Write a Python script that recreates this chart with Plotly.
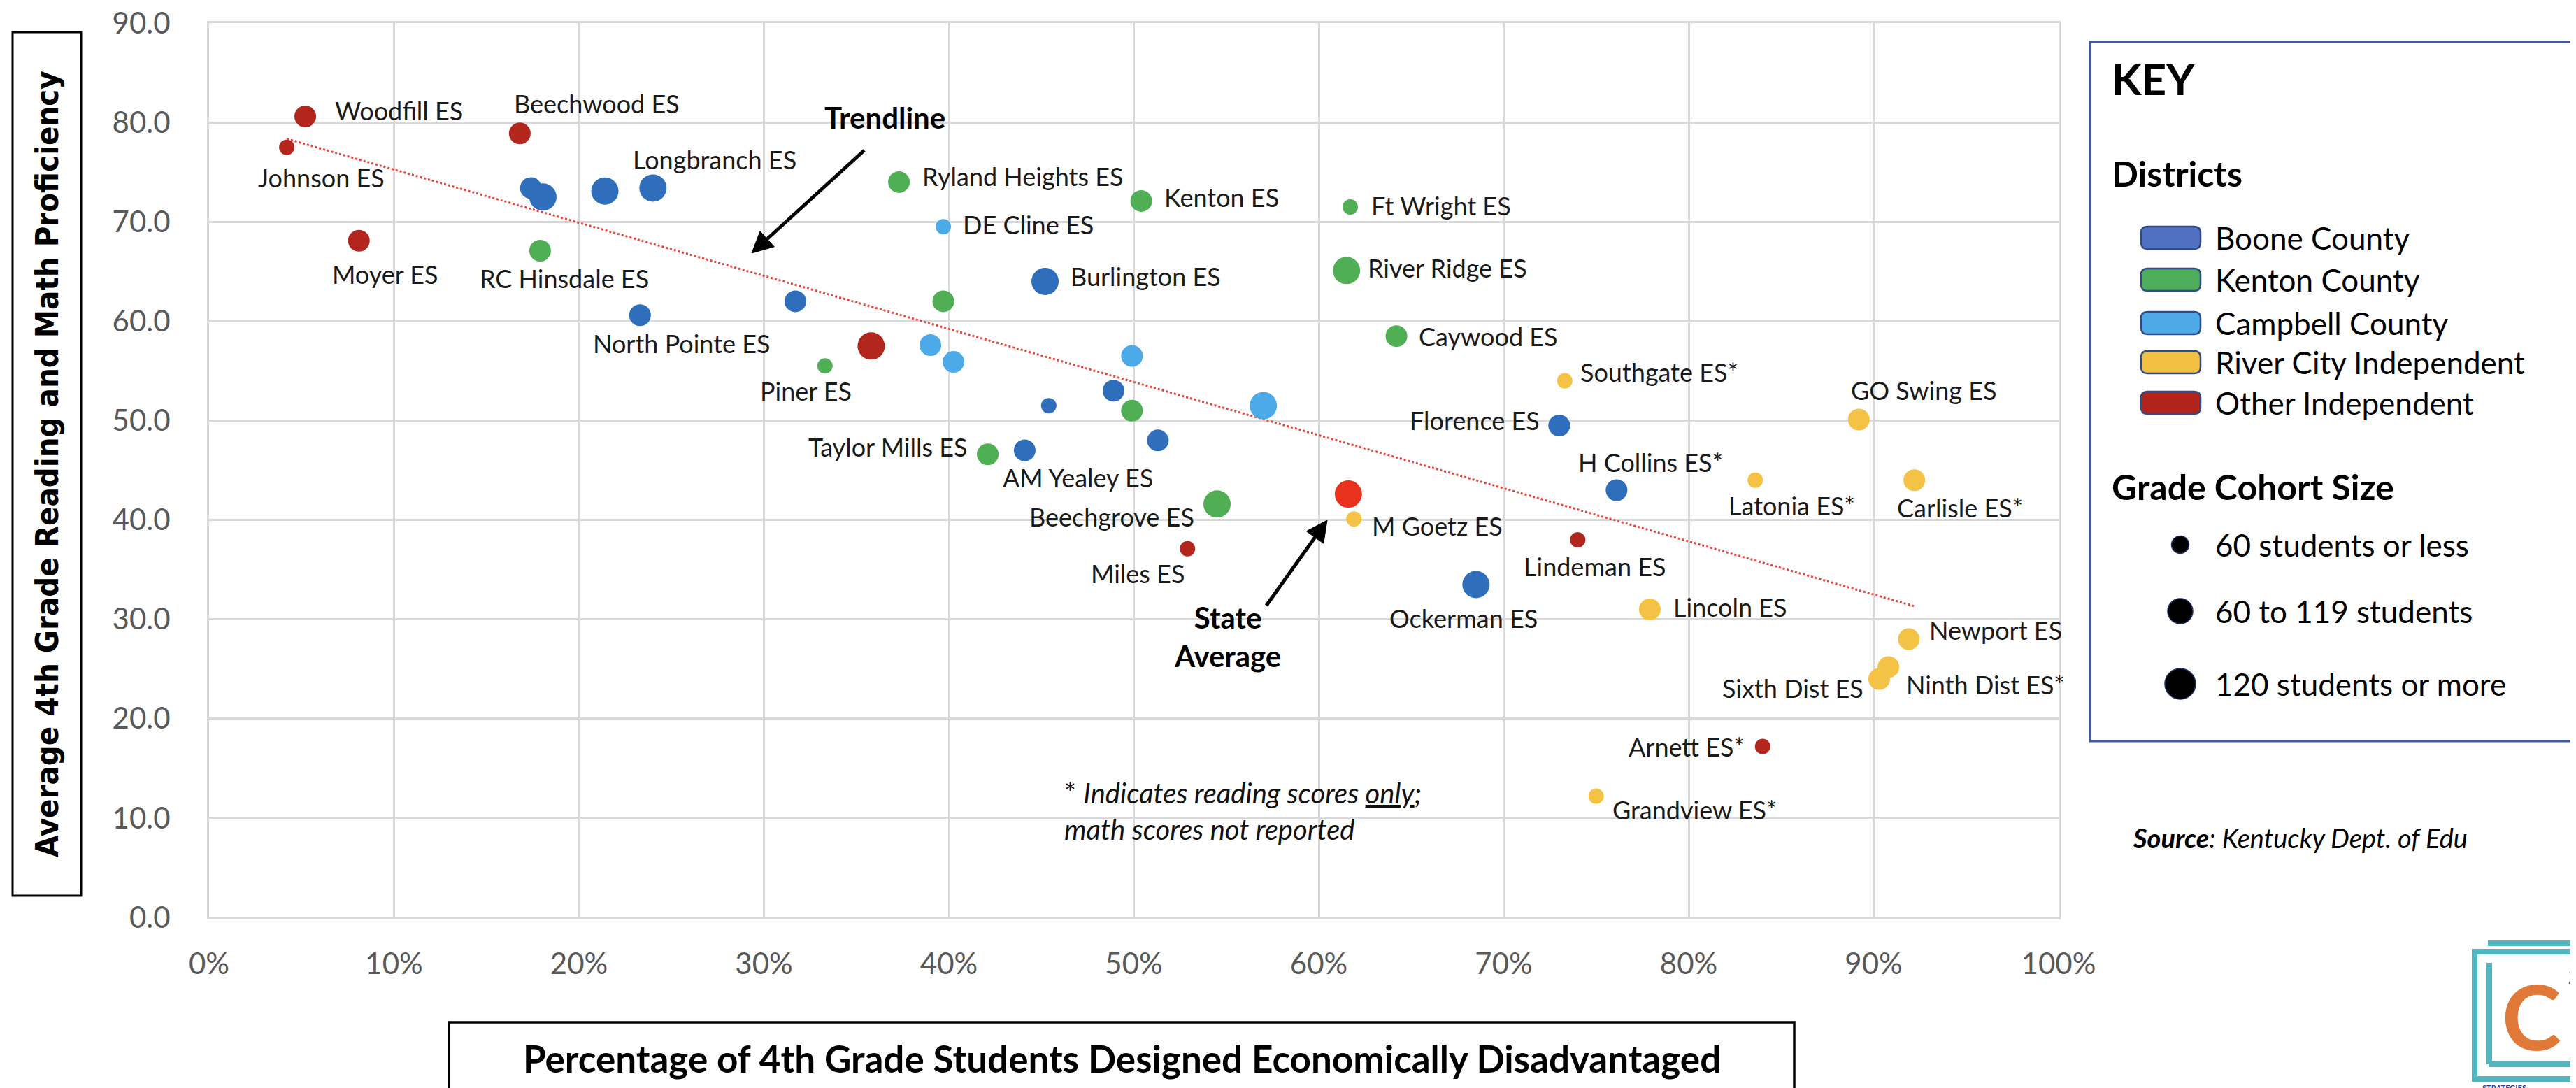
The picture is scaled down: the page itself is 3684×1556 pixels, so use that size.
import numpy as np
import plotly.graph_objects as go

# ---------------- DATA ----------------
districts = ["Boone County", "Kenton County", "Campbell County",
             "River City Independent", "Other Independent"]

boone_label = ["", "", "", "Longbranch ES", "North Pointe ES", "", "Burlington ES", "", "", "",
               "AM Yealey ES", "Florence ES", "H Collins ES*", "Ockerman ES"]
boone_x = [17.4, 18.05, 21.4, 24.0, 23.3, 31.7, 45.2, 45.4, 48.9, 51.3, 44.1, 73.0, 76.1, 68.5]
boone_y = [73.4, 72.5, 73.1, 73.4, 60.6, 62.0, 64.0, 51.5, 53.0, 48.0, 47.0, 49.5, 43.0, 33.5]
boone_cohort = ["M", "L", "L", "L", "M", "M", "L", "S", "M", "M", "M", "M", "M", "L"]

kenton_label = ["RC Hinsdale ES", "Piner ES", "Ryland Heights ES", "", "Taylor Mills ES", "",
                "Kenton ES", "Beechgrove ES", "Ft Wright ES", "River Ridge ES", "Caywood ES"]
kenton_x = [17.9, 33.3, 37.3, 39.7, 42.1, 49.9, 50.4, 54.5, 61.7, 61.5, 64.2]
kenton_y = [67.1, 55.5, 74.0, 62.0, 46.6, 51.0, 72.1, 41.6, 71.5, 65.1, 58.5]
kenton_cohort = ["M", "S", "M", "M", "M", "M", "M", "L", "S", "L", "M"]

campbell_label = ["DE Cline ES", "", "", "", ""]
campbell_x = [39.7, 39.0, 40.25, 49.9, 57.0]
campbell_y = [69.5, 57.6, 55.9, 56.5, 51.5]
campbell_cohort = ["S", "M", "M", "M", "L"]

river_label = ["Southgate ES*", "GO Swing ES", "Latonia ES*", "Carlisle ES*", "M Goetz ES",
               "Lincoln ES", "Newport ES", "Ninth Dist ES*", "Sixth Dist ES", "Grandview ES*"]
river_x = [73.3, 89.2, 83.6, 92.2, 61.9, 77.9, 91.9, 90.8, 90.3, 75.0]
river_y = [54.0, 50.1, 44.0, 44.0, 40.1, 31.0, 28.0, 25.2, 24.0, 12.2]
river_cohort = ["S", "M", "S", "M", "S", "M", "M", "M", "M", "S"]

other_label = ["Woodfill ES", "Johnson ES", "Beechwood ES", "Moyer ES", "", "Miles ES",
               "Lindeman ES", "Arnett ES*"]
other_x = [5.2, 4.2, 16.8, 8.1, 35.8, 52.9, 74.0, 84.0]
other_y = [80.6, 77.5, 78.9, 68.1, 57.5, 37.1, 38.0, 17.2]
other_cohort = ["M", "S", "M", "M", "L", "S", "S", "S"]

state_x = [61.6]
state_y = [42.6]
state_cohort = ["L"]

cohort_labels = ["60 students or less", "60 to 119 students", "120 students or more"]
x_ticks = list(range(0, 101, 10))
x_ticktext = [f"{v}%" for v in x_ticks]
y_ticks = list(range(0, 91, 10))
y_ticktext = [f"{v:.1f}" for v in y_ticks]

# ---------------- STYLE / LAYOUT ----------------
W, H = 3684, 1556
L, R, T, B = 291, 2936, 25, 1304   # plot area in page pixels


def px(x):
    return (x - L) / (R - L)


def py(y):
    return (B - y) / (B - T)


SIZE = {"S": 22, "M": 31, "L": 39}
DOT_COLORS = ["#2F6EBA", "#50AE55", "#4DAAE8", "#F4C245", "#B3261E"]
PATCH_COLORS = ["#5170BF", "#4EAD5B", "#4DAAE6", "#F2C142", "#B0241B"]
STATE_COLOR = "#E8321E"
LABEL_FONT = dict(family="Lato, sans-serif", size=36, color="#1A1A1A")
TICK_FONT = dict(family="Lato, sans-serif", size=42, color="#595959")

# label placement: (anchor, dx, dy) in pixels from the dot centre
LABEL_POS = {
    "Woodfill ES": ("l", 40, -9), "Beechwood ES": ("c", 110, -43), "Johnson ES": ("c", 49, 43),
    "Longbranch ES": ("c", 88, -41), "Ryland Heights ES": ("l", 31, -8), "DE Cline ES": ("l", 26, -3),
    "Moyer ES": ("c", 38, 48), "RC Hinsdale ES": ("c", 35, 40), "North Pointe ES": ("c", 60, 40),
    "Piner ES": ("c", -27, 36), "Taylor Mills ES": ("r", -27, -11), "AM Yealey ES": ("c", 76, 39),
    "Burlington ES": ("l", 34, -7), "Kenton ES": ("l", 31, -5), "Ft Wright ES": ("l", 28, -2),
    "River Ridge ES": ("l", 28, -4), "Caywood ES": ("l", 30, 0), "Southgate ES*": ("l", 20, -13),
    "GO Swing ES": ("c", 93, -42), "Florence ES": ("r", -26, -8), "H Collins ES*": ("c", 49, -40),
    "Latonia ES*": ("c", 52, 36), "Carlisle ES*": ("c", 65, 39), "Beechgrove ES": ("r", -31, 18),
    "M Goetz ES": ("l", 24, 10), "Lindeman ES": ("c", 25, 38), "Miles ES": ("c", -71, 35),
    "Ockerman ES": ("c", -18, 48), "Lincoln ES": ("l", 32, -3), "Newport ES": ("l", 27, -13),
    "Ninth Dist ES*": ("l", 23, 25), "Sixth Dist ES": ("r", -20, 13), "Arnett ES*": ("r", -24, 0),
    "Grandview ES*": ("l", 21, 19),
}
ANCHOR = {"l": "left", "c": "center", "r": "right"}

series = [
    (boone_label, boone_x, boone_y, boone_cohort),
    (kenton_label, kenton_x, kenton_y, kenton_cohort),
    (campbell_label, campbell_x, campbell_y, campbell_cohort),
    (river_label, river_x, river_y, river_cohort),
    (other_label, other_x, other_y, other_cohort),
]

fig = go.Figure()

# trendline: least squares over all schools, spanning the data range
all_x = np.array(sum([s[1] for s in series], []))
all_y = np.array(sum([s[2] for s in series], []))
slope, intercept = np.polyfit(all_x, all_y, 1)
tx = np.array([all_x.min(), all_x.max()])
fig.add_trace(go.Scatter(x=tx, y=slope * tx + intercept, mode="lines",
                         line=dict(color="#E8453C", width=3, dash="dot"),
                         hoverinfo="skip", showlegend=False))

annotations = []
for (labels, xs, ys, cohort), name, color in zip(series, districts, DOT_COLORS):
    fig.add_trace(go.Scatter(
        x=xs, y=ys, mode="markers", name=name, text=labels,
        marker=dict(color=color, size=[SIZE[c] for c in cohort], line=dict(width=0), opacity=1),
        showlegend=False))
    for lab, x, y in zip(labels, xs, ys):
        if not lab:
            continue
        a, dx, dy = LABEL_POS[lab]
        annotations.append(dict(x=x, y=y, xref="x", yref="y", text=lab, showarrow=False,
                                xanchor=ANCHOR[a], yanchor="middle", xshift=dx, yshift=-dy,
                                font=LABEL_FONT))

fig.add_trace(go.Scatter(x=state_x, y=state_y, mode="markers", name="State Average",
                         marker=dict(color=STATE_COLOR, size=[SIZE[c] for c in state_cohort],
                                     line=dict(width=0), opacity=1),
                         showlegend=False))

BOLD = dict(family="Lato, sans-serif", size=42, color="#000000")
shapes = []


def pa(text, x, y, xanchor="left", yanchor="middle", font=None, angle=0, align="left"):
    annotations.append(dict(x=px(x), y=py(y), xref="paper", yref="paper", text=text,
                            showarrow=False, xanchor=xanchor, yanchor=yanchor,
                            font=font or LABEL_FONT, textangle=angle, align=align))


def arrow(hx, hy, tx_, ty_, width=5, head_len=30, head_w=15):
    v = np.array([hx - tx_, hy - ty_], dtype=float)
    u = v / np.linalg.norm(v)
    n = np.array([-u[1], u[0]])
    base = np.array([hx, hy]) - u * head_len
    shapes.append(dict(type="line", xref="paper", yref="paper", x0=px(tx_), y0=py(ty_),
                       x1=px(base[0]), y1=py(base[1]), line=dict(color="#000000", width=width)))
    p1 = base + n * head_w
    p2 = base - n * head_w
    path = (f"M {px(hx):.6f},{py(hy):.6f} L {px(p1[0]):.6f},{py(p1[1]):.6f} "
            f"L {px(p2[0]):.6f},{py(p2[1]):.6f} Z")
    shapes.append(dict(type="path", xref="paper", yref="paper", path=path,
                       fillcolor="#000000", line=dict(color="#000000", width=1)))


arrow(1067, 354, 1228, 207)
arrow(1890, 736, 1803, 858)
pa("<b>Trendline</b>", 1257, 160, xanchor="center", font=BOLD)
pa("<b>State<br>Average</b>", 1748, 902, xanchor="center", font=BOLD, align="center")

# footnote
pa("* <i>Indicates reading scores <u>only</u>;</i><br><i>math scores not reported</i>",
   1512, 1152, font=dict(family="Lato, sans-serif", size=40, color="#111111"))

# axis titles
pa("<b>Average 4th Grade Reading and Math Proficiency</b>", 59, 656, xanchor="center",
   font=dict(family="DejaVu Sans Condensed, DejaVu Sans, sans-serif", size=45, color="#000000"),
   angle=-90)
pa("<b>Percentage of 4th Grade Students Designed Economically Disadvantaged</b>", 1596, 1505,
   xanchor="center", font=dict(family="Lato, sans-serif", size=53, color="#000000"))

# key
pa("<b>KEY</b>", 3010, 104, font=dict(family="Lato, sans-serif", size=62, color="#000000"))
pa("<b>Districts</b>", 3010, 240, font=dict(family="Lato, sans-serif", size=50, color="#000000"))
pa("<b>Grade Cohort Size</b>", 3010, 688, font=dict(family="Lato, sans-serif", size=50, color="#000000"))
KEY_FONT = dict(family="Lato, sans-serif", size=44, color="#000000")
patch_cy = [332, 392, 454, 510, 568]
for name, cy in zip(districts, patch_cy):
    pa(name, 3158, cy, font=KEY_FONT)
size_cy = [771, 866, 970]
size_d = [25, 36, 44]
for name, cy in zip(cohort_labels, size_cy):
    pa(name, 3158, cy, font=KEY_FONT)

pa("<b><i>Source</i></b><i>: Kentucky Dept. of Edu</i>", 3040, 1190,
   font=dict(family="Lato, sans-serif", size=38, color="#000000"))

# logo text
pa("<b>C</b>", 3568, 1444, xanchor="left",
   font=dict(family="Lato, sans-serif", size=128, color="#E07838"))
pa("<b>2</b>", 3683, 1388, xanchor="right",
   font=dict(family="Lato, sans-serif", size=28, color="#2E3A8C"))
pa("<b>STRATEGIES</b>", 3540, 1539, yanchor="top",
   font=dict(family="Lato, sans-serif", size=11, color="#2E3A8C"))


def rect(x0, y0, x1, y1, color, width):
    shapes.append(dict(type="rect", xref="paper", yref="paper", x0=px(x0), x1=px(x1),
                       y0=py(y1), y1=py(y0), line=dict(color=color, width=width),
                       fillcolor="rgba(0,0,0,0)", layer="above"))


def rrect(x0, y0, x1, y1, r, fill, line):
    P = lambda x, y: f"{px(x):.6f},{py(y):.6f}"
    path = (f"M {P(x0 + r, y0)} L {P(x1 - r, y0)} Q {P(x1, y0)} {P(x1, y0 + r)} "
            f"L {P(x1, y1 - r)} Q {P(x1, y1)} {P(x1 - r, y1)} L {P(x0 + r, y1)} "
            f"Q {P(x0, y1)} {P(x0, y1 - r)} L {P(x0, y0 + r)} Q {P(x0, y0)} {P(x0 + r, y0)} Z")
    shapes.append(dict(type="path", xref="paper", yref="paper", path=path, fillcolor=fill,
                       line=dict(color=line, width=2.5), layer="above"))


rect(10, 38, 108, 1273, "#000000", 3)          # y title box
rect(634, 1454, 2558, 1620, "#000000", 3.5)    # x title box
rect(2981, 52, 3676, 1052, "#3D5CA3", 3)       # key box

for color, cy in zip(PATCH_COLORS, patch_cy):
    rrect(3054, cy - 16, 3139, cy + 16, 9, color, "#2F4A8A")

for d, cy in zip(size_d, size_cy):
    shapes.append(dict(type="circle", xref="paper", yref="paper", xsizemode="pixel",
                       ysizemode="pixel", xanchor=px(3110), yanchor=py(cy),
                       x0=-d / 2, x1=d / 2, y0=-d / 2, y1=d / 2,
                       fillcolor="#000000", line=dict(color="#1F2F6A", width=1.5)))

# logo frame
TEAL = "#52B6C0"
shapes.append(dict(type="line", xref="paper", yref="paper", x0=px(3550), x1=px(3700),
                   y0=py(1341), y1=py(1341), line=dict(color=TEAL, width=8)))
shapes.append(dict(type="rect", xref="paper", yref="paper", x0=px(3531), x1=px(3700),
                   y0=py(1535), y1=py(1353), line=dict(color=TEAL, width=8)))
shapes.append(dict(type="line", xref="paper", yref="paper", x0=px(3552), x1=px(3552),
                   y0=py(1369), y1=py(1514), line=dict(color=TEAL, width=8)))
shapes.append(dict(type="line", xref="paper", yref="paper", x0=px(3552), x1=px(3700),
                   y0=py(1514), y1=py(1514), line=dict(color=TEAL, width=8)))

GRID = "#D9D9D9"
fig.update_layout(
    width=W, height=H,
    margin=dict(l=L, r=W - R, t=T, b=H - B, autoexpand=False),
    paper_bgcolor="white", plot_bgcolor="white",
    showlegend=False,
    font=dict(family="Lato, sans-serif"),
    xaxis=dict(range=[0, 100], tickmode="array", tickvals=x_ticks, ticktext=x_ticktext,
               showgrid=True, gridcolor=GRID, gridwidth=3, showline=True, mirror=True,
               linecolor=GRID, linewidth=3, zeroline=False, ticks="", tickfont=TICK_FONT,
               ticklabelstandoff=28, ticklabeloverflow="allow", automargin=False,
               fixedrange=True),
    yaxis=dict(range=[0, 90], tickmode="array", tickvals=y_ticks, ticktext=y_ticktext,
               showgrid=True, gridcolor=GRID, gridwidth=3, showline=True, mirror=True,
               linecolor=GRID, linewidth=3, zeroline=False, ticks="", tickfont=TICK_FONT,
               ticklabelstandoff=44, ticklabeloverflow="allow", automargin=False,
               fixedrange=True),
    annotations=annotations,
    shapes=shapes,
)

fig.write_html("out.html")
